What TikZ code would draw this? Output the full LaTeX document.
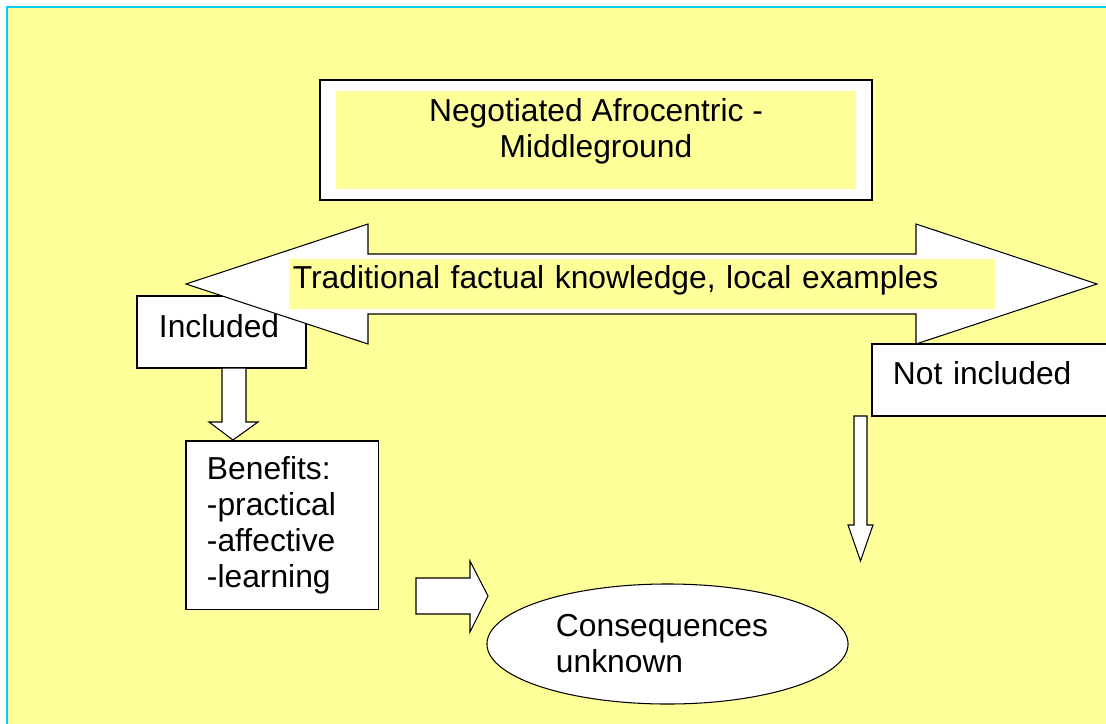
\documentclass[tikz,border=0pt]{standalone}
\usepackage{fontspec}
\setmainfont{Liberation Sans}
\usetikzlibrary{shapes.geometric}
\definecolor{paleyellow}{RGB}{255,255,153}
\definecolor{framecyan}{RGB}{0,204,255}
\begin{document}
\begin{tikzpicture}[x=0.025cm, y=-0.025cm,
    every node/.style={font=\fontsize{22.6pt}{25.6pt}\selectfont, inner sep=0pt},
    box/.style={draw, fill=white, line width=0.75pt, align=left},
    blockarrow/.style={draw, fill=white, line width=0.75pt, line join=miter}]
    \useasboundingbox (0,0) rectangle (1106,724);
    \fill[paleyellow] (7,7) rectangle (1106,724);
    \draw[framecyan, line width=1.5pt] (7,724) -- (7,7) -- (1106,7);
    % title
    \node[draw, fill=white, line width=1.4pt, minimum width=13.8cm, minimum height=3cm] (title) at (596,140) {};
    \node[fill=paleyellow, minimum width=13cm, minimum height=2.45cm, align=center,
          text height=1.45cm, text depth=0.6cm] (titletext) at (596,140) {Negotiated Afrocentric -\\Middleground};
    % included, under the big arrow
    \node[box, minimum width=4.225cm, minimum height=1.8cm, inner xsep=0.55cm, text width=3.125cm,
          text height=0.55cm, text depth=0.3cm] (incl) at (221.5,332) {Included};
    % double arrow
    \draw[blockarrow] (186,284) -- (368,224) -- (368,254) -- (916,254) -- (916,224) -- (1097,284)
        -- (916,344) -- (916,314) -- (368,314) -- (368,344) -- cycle;
    \node[fill=paleyellow, minimum width=17.65cm, minimum height=1.25cm, inner xsep=0.1cm, text width=17.45cm,
          text height=0.55cm, text depth=0.325cm] (know) at (642,284) {Traditional factual knowledge, local examples};
    \node[box, minimum width=5.9cm, minimum height=1.8cm, inner xsep=0.525cm, text width=4.85cm,
          text height=0.55cm, text depth=0.35cm] (notincl) at (990,380) {Not included};
    \node[box, minimum width=4.8cm, minimum height=4.2cm, inner xsep=0.525cm, text width=3.75cm] (benefits) at (282,525)
        {Benefits:\\-practical\\-affective\\-learning};
    \node[ellipse, draw, fill=white, line width=0.75pt, minimum width=9.025cm, minimum height=3cm, align=left,
          text width=5.575cm] (conseq) at (667.5,644) {Consequences\\unknown};
    % block arrows
    \draw[blockarrow] (222,368) -- (246,368) -- (246,422) -- (258,422) -- (233,440) -- (209,422) -- (222,422) -- cycle;
    \draw[blockarrow] (416,578) -- (470,578) -- (470,561) -- (488,596) -- (470,632) -- (470,614) -- (416,614) -- cycle;
    \draw[blockarrow] (854,416) -- (867,416) -- (867,525) -- (873,525) -- (860.5,561) -- (848,525) -- (854,525) -- cycle;
\end{tikzpicture}
\end{document}
